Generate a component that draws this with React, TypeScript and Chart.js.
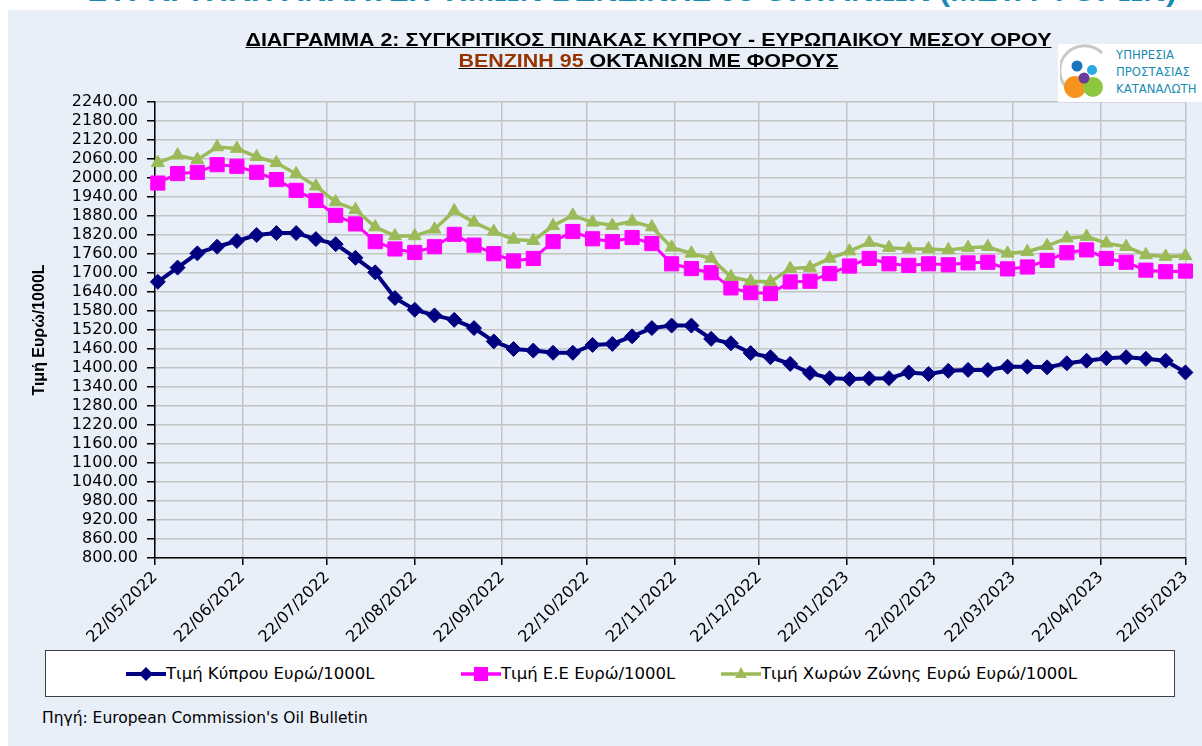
import { useEffect, useRef } from "react";
import { Chart, registerables } from "chart.js";
Chart.register(...registerables);

const weekDates = [
  "23/05/2022", "30/05/2022", "06/06/2022", "13/06/2022", "20/06/2022", "27/06/2022",
  "04/07/2022", "11/07/2022", "18/07/2022", "25/07/2022", "01/08/2022", "08/08/2022",
  "15/08/2022", "22/08/2022", "29/08/2022", "05/09/2022", "12/09/2022", "19/09/2022",
  "26/09/2022", "03/10/2022", "10/10/2022", "17/10/2022", "24/10/2022", "31/10/2022",
  "07/11/2022", "14/11/2022", "21/11/2022", "28/11/2022", "05/12/2022", "12/12/2022",
  "19/12/2022", "26/12/2022", "02/01/2023", "09/01/2023", "16/01/2023", "23/01/2023",
  "30/01/2023", "06/02/2023", "13/02/2023", "20/02/2023", "27/02/2023", "06/03/2023",
  "13/03/2023", "20/03/2023", "27/03/2023", "03/04/2023", "10/04/2023", "17/04/2023",
  "24/04/2023", "01/05/2023", "08/05/2023", "15/05/2023", "22/05/2023",
];

const cyprusPrice = [
  1672, 1717, 1762, 1783, 1801, 1820, 1826, 1826, 1807, 1791, 1748, 1702, 1621, 1584,
  1566, 1552, 1526, 1484, 1460, 1455, 1448, 1448, 1473, 1476, 1500, 1526, 1534, 1534,
  1492, 1478, 1447, 1434, 1413, 1384, 1368, 1365, 1367, 1368, 1386, 1381, 1391, 1394,
  1394, 1404, 1404, 1402, 1415, 1423, 1431, 1434, 1429, 1423, 1386,
];

const euPrice = [
  1984, 2014, 2018, 2042, 2037, 2018, 1995, 1961, 1929, 1882, 1855, 1799, 1776, 1765,
  1783, 1822, 1788, 1761, 1738, 1746, 1799, 1831, 1808, 1799, 1812, 1793, 1729, 1714,
  1701, 1653, 1638, 1635, 1672, 1674, 1698, 1722, 1746, 1729, 1724, 1729, 1726, 1732,
  1734, 1713, 1719, 1740, 1764, 1773, 1746, 1734, 1709, 1704, 1706,
];

const eurozonePrice = [
  2048, 2072, 2058, 2098, 2093, 2067, 2048, 2013, 1974, 1924, 1900, 1845, 1817, 1817,
  1838, 1896, 1860, 1831, 1806, 1802, 1849, 1882, 1860, 1850, 1863, 1845, 1781, 1762,
  1746, 1688, 1674, 1672, 1714, 1717, 1746, 1769, 1796, 1780, 1776, 1776, 1773, 1780,
  1783, 1762, 1767, 1786, 1810, 1815, 1794, 1783, 1757, 1752, 1754,
];

const monthTickLabels = [
  "22/05/2022", "22/06/2022", "22/07/2022", "22/08/2022", "22/09/2022", "22/10/2022",
  "22/11/2022", "22/12/2022", "22/01/2023", "22/02/2023", "22/03/2023", "22/04/2023",
  "22/05/2023",
];

const seriesNames = [
  "Τιμή Κύπρου Ευρώ/1000L",
  "Τιμή Ε.Ε Ευρώ/1000L",
  "Τιμή Χωρών Ζώνης Ευρώ Ευρώ/1000L",
];

const yMin = 800;
const yMax = 2240;
const yStep = 60;

const parseDate = (s: string) => {
  const [d, m, y] = s.split("/").map(Number);
  return Date.UTC(y, m - 1, d);
};
const baseTime = parseDate(monthTickLabels[0]);
const toDay = (s: string) => Math.round((parseDate(s) - baseTime) / 86400000);
const monthDays = monthTickLabels.map(toDay);

const NAVY = "#000080";
const PINK = "#FF00FF";
const GREEN = "#9BBB59";
const GRID = "#C4C4C4";

export default function App() {
  const canvasRef = useRef<HTMLCanvasElement | null>(null);

  useEffect(() => {
    const canvas = canvasRef.current;
    if (!canvas) return;
    const mk = (vals: number[]) => weekDates.map((d, i) => ({ x: toDay(d), y: vals[i] }));
    const chart = new Chart(canvas, {
      type: "line",
      data: {
        datasets: [
          {
            label: seriesNames[0],
            data: mk(cyprusPrice),
            borderColor: NAVY,
            backgroundColor: NAVY,
            borderWidth: 4,
            pointStyle: "rectRot",
            pointRadius: 7.5,
            pointBorderWidth: 1,
            pointBorderColor: NAVY,
            pointBackgroundColor: NAVY,
            tension: 0,
            clip: false as any,
            order: 3,
          },
          {
            label: seriesNames[1],
            data: mk(euPrice),
            borderColor: PINK,
            backgroundColor: PINK,
            borderWidth: 3,
            pointStyle: "rect",
            pointRadius: 10,
            pointBorderWidth: 1,
            pointBorderColor: PINK,
            pointBackgroundColor: PINK,
            tension: 0,
            clip: false as any,
            order: 2,
          },
          {
            label: seriesNames[2],
            data: mk(eurozonePrice),
            borderColor: GREEN,
            backgroundColor: GREEN,
            borderWidth: 3.5,
            pointStyle: "triangle",
            pointRadius: 7.5,
            pointBorderWidth: 1,
            pointBorderColor: GREEN,
            pointBackgroundColor: GREEN,
            tension: 0,
            clip: false as any,
            order: 1,
          },
        ],
      },
      options: {
        animation: false,
        responsive: false,
        maintainAspectRatio: false,
        events: [],
        layout: { padding: { left: 18, top: 92, right: 13, bottom: 0 } },
        plugins: { legend: { display: false }, tooltip: { enabled: false }, title: { display: false } },
        scales: {
          x: {
            type: "linear",
            min: monthDays[0],
            max: monthDays[monthDays.length - 1],
            afterBuildTicks: (s: any) => {
              s.ticks = monthDays.map((v) => ({ value: v }));
            },
            afterFit: (s: any) => {
              s.height = 92;
            },
            ticks: {
              autoSkip: false,
              minRotation: 45,
              maxRotation: 45,
              padding: 3,
              color: "#000",
              font: { family: "DejaVu Sans", size: 16 },
              callback: (v: any) => {
                const i = monthDays.indexOf(Number(v));
                return i >= 0 ? monthTickLabels[i] : "";
              },
            },
            grid: { color: GRID, lineWidth: 1.5, tickColor: "#000", tickLength: 7 },
            border: { color: "#000", width: 1.5 },
          },
          y: {
            min: yMin,
            max: yMax,
            afterFit: (s: any) => {
              s.width = 129;
            },
            ticks: {
              stepSize: yStep,
              autoSkip: false,
              color: "#000",
              padding: 9,
              font: { family: "DejaVu Sans", size: 16 },
              callback: (v: any) => Number(v).toFixed(2),
            },
            grid: { color: GRID, lineWidth: 1.5, tickColor: "#000", tickLength: 8 },
            border: { color: "#000", width: 1.5 },
            title: {
              display: true,
              text: "Τιμή Ευρώ/1000L",
              color: "#000",
              font: { family: "Liberation Sans", size: 16, weight: "bold" },
            },
          },
        },
      },
    });
    return () => chart.destroy();
  }, []);

  const legendItem = (left: number, color: string, shape: string, text: string) => (
    <div style={{ position: "absolute", left, top: 0, height: 45, display: "flex", alignItems: "center" }}>
      <svg width={40} height={20} style={{ display: "block" }}>
        <line x1={0} y1={10} x2={40} y2={10} stroke={color} strokeWidth={shape === "d" ? 4 : 3.5} />
        {shape === "d" && <polygon points="20,3 27,10 20,17 13,10" fill={color} />}
        {shape === "s" && <rect x={13} y={3} width={14} height={14} fill={color} />}
        {shape === "t" && <polygon points="20,3 26,14 14,14" fill={color} />}
      </svg>
      <span style={{ fontFamily: "DejaVu Sans", fontSize: 16.5, color: "#000", whiteSpace: "nowrap" }}>{text}</span>
    </div>
  );

  return (
    <div style={{ position: "fixed", left: 0, top: 0, width: 1202, height: 746, background: "#fff", overflow: "hidden" }}>
      <div
        style={{
          position: "absolute",
          left: 88,
          top: -22,
          fontFamily: "Liberation Sans",
          fontWeight: "bold",
          fontSize: 28,
          lineHeight: "28px",
          color: "#1A8BB3",
          whiteSpace: "nowrap",
          transform: "scaleX(1.13)",
          transformOrigin: "0px 0px",
        }}
      >
        ΣΥΓΚΡΙΤΙΚΗ ΑΝΑΛΥΣΗ ΤΙΜΩΝ ΒΕΝΖΙΝΗΣ 95 ΟΚΤΑΝΙΩΝ (ΜΕΤΑ ΦΟΡΩΝ)
      </div>
      <div style={{ position: "absolute", left: 8, top: 10, right: 0, bottom: 0, background: "#E9EFF8" }}>
        <canvas ref={canvasRef} width={1194} height={640} style={{ position: "absolute", left: 0, top: 0, display: "block" }} />
        <div
          style={{
            position: "absolute",
            left: 0,
            width: 1281,
            top: 20,
            textAlign: "center",
            fontFamily: "Liberation Sans",
            fontWeight: "bold",
            fontSize: 18,
            lineHeight: "21px",
            color: "#000",
            transform: "scaleX(1.19)",
            transformOrigin: "640.5px 0px",
          }}
        >
          <div style={{ textDecoration: "underline" }}>ΔΙΑΓΡΑΜΜΑ 2: ΣΥΓΚΡΙΤΙΚΟΣ ΠΙΝΑΚΑΣ ΚΥΠΡΟΥ - ΕΥΡΩΠΑΙΚΟΥ ΜΕΣΟΥ ΟΡΟΥ</div>
          <div style={{ textDecoration: "underline" }}>
            <span style={{ color: "#993300" }}>ΒΕΝΖΙΝΗ 95</span> ΟΚΤΑΝΙΩΝ ΜΕ ΦΟΡΟΥΣ
          </div>
        </div>
        <div style={{ position: "absolute", left: 1050, top: 34, width: 144, height: 58, background: "#fff" }}>
          <svg width={52} height={58} style={{ position: "absolute", left: 2, top: 0 }}>
            <path d="M 7 44 A 23 23 0 0 1 42 9" stroke="#C8C8C8" strokeWidth={3} fill="none" />
            <circle cx={17} cy={22} r={5.5} fill="#1B75BC" />
            <circle cx={32} cy={26} r={5} fill="#29ABE2" />
            <circle cx={15} cy={43} r={11} fill="#F7941D" />
            <circle cx={33} cy={43} r={10} fill="#8DC63F" />
            <circle cx={24} cy={34} r={5.5} fill="#6A3D9A" />
          </svg>
          <div
            style={{
              position: "absolute",
              left: 58,
              top: 2,
              fontFamily: "DejaVu Sans Condensed",
              fontSize: 13,
              lineHeight: "17px",
              color: "#1A8BB3",
              whiteSpace: "nowrap",
            }}
          >
            <div>ΥΠΗΡΕΣΙΑ</div>
            <div>ΠΡΟΣΤΑΣΙΑΣ</div>
            <div>ΚΑΤΑΝΑΛΩΤΗ</div>
          </div>
        </div>
        <div
          style={{
            position: "absolute",
            left: 37,
            top: 640,
            width: 1128,
            height: 45,
            background: "#fff",
            border: "1px solid #404040",
          }}
        >
          {legendItem(80, NAVY, "d", seriesNames[0])}
          {legendItem(415, PINK, "s", seriesNames[1])}
          {legendItem(675, GREEN, "t", seriesNames[2])}
        </div>
        <div
          style={{
            position: "absolute",
            left: 34,
            top: 699,
            fontFamily: "DejaVu Sans",
            fontSize: 15.5,
            color: "#000",
            whiteSpace: "nowrap",
          }}
        >
          Πηγή: European Commission's Oil Bulletin
        </div>
      </div>
    </div>
  );
}
